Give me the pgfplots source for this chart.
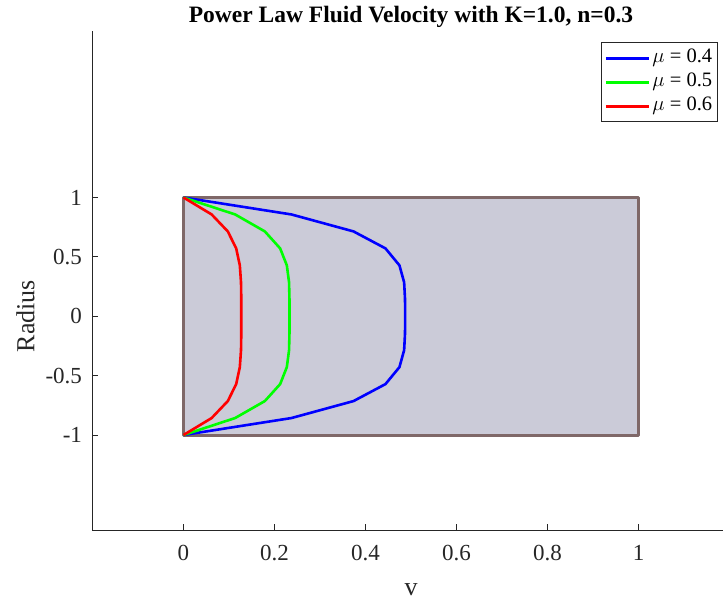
\documentclass[border=0pt]{standalone}
\usepackage{fontspec}
\setmainfont{Liberation Serif}
\usepackage{pgfplots}
\pgfplotsset{compat=1.18}
\definecolor{rectfill}{RGB}{203,203,216}
\definecolor{rectedge}{RGB}{127,104,104}
\definecolor{axgray}{RGB}{38,38,38}
\begin{document}
\begin{tikzpicture}
\path[use as bounding box] (0,0) rectangle (723pt,603pt);
\begin{axis}[
  at={(92.5pt,73pt)}, anchor=south west,
  scale only axis, width=637pt, height=498.75pt,
  xmin=-0.2, xmax=1.2, ymin=-1.8, ymax=2.4,
  axis x line*=bottom, axis y line*=left,
  axis line style={axgray, line width=0.8pt},
  xtick={0,0.2,0.4,0.6,0.8,1}, ytick={-1,-0.5,0,0.5,1},
  xticklabels={0,0.2,0.4,0.6,0.8,1},
  yticklabels={-1,-0.5,0,0.5,1},
  tick align=inside, major tick length=6pt,
  tick style={axgray, line width=0.8pt},
  tick label style={font=\fontsize{23}{23}\selectfont, text=axgray},
  /pgf/number format/assume math mode=true,
  xticklabel style={yshift=-12pt},
  yticklabel style={xshift=-7pt},
  xlabel={v}, ylabel={Radius},
  label style={font=\fontsize{26}{26}\selectfont, text=axgray},
  xlabel style={yshift=-16pt},
  ylabel style={at={(ticklabel cs:0.429)}, yshift=4pt},
  title={Power Law Fluid Velocity with K=1.0, n=0.3},
  title style={font=\bfseries\fontsize{23.5}{23.5}\selectfont, at={(0.5,1)}, anchor=base, yshift=3pt},
  legend style={at={(0.982,0.978)}, anchor=north east, draw=axgray, line width=0.8pt,
    fill=white, font=\fontsize{20.5}{20.5}\selectfont, row sep=0pt, inner sep=3.5pt,
    nodes={inner xsep=2pt, inner ysep=2.5pt, text height=14pt, text depth=5pt}},
  legend cell align=left,
  legend image code/.code={\draw[#1, line width=3pt] (0pt,0pt) -- (43pt,0pt);},
  every axis plot/.append style={line join=round},
]
\addplot[fill=rectfill, draw=rectedge, line width=3pt, forget plot]
  coordinates {(0,-1) (1,-1) (1,1) (0,1)} -- cycle;
\addplot[blue, line width=2.6pt] coordinates {
(0,-1) (0.2373,-0.857143) (0.3737,-0.714286) (0.4439,-0.571429) (0.4746,-0.428571)
(0.4849,-0.285714) (0.4869,-0.142857) (0.487,0) (0.4869,0.142857) (0.4849,0.285714)
(0.4746,0.428571) (0.4439,0.571429) (0.3737,0.714286) (0.2373,0.857143) (0,1)};
\addlegendentry{$\mu$ = 0.4}
\addplot[color={rgb,255:red,0;green,255;blue,0}, line width=2.6pt] coordinates {
(0,-1) (0.1135,-0.857143) (0.1788,-0.714286) (0.2124,-0.571429) (0.2271,-0.428571)
(0.2320,-0.285714) (0.2329,-0.142857) (0.233,0) (0.2329,0.142857) (0.2320,0.285714)
(0.2271,0.428571) (0.2124,0.571429) (0.1788,0.714286) (0.1135,0.857143) (0,1)};
\addlegendentry{$\mu$ = 0.5}
\addplot[red, line width=2.6pt] coordinates {
(0,-1) (0.0619,-0.857143) (0.0974,-0.714286) (0.1158,-0.571429) (0.1238,-0.428571)
(0.1264,-0.285714) (0.1270,-0.142857) (0.127,0) (0.1270,0.142857) (0.1264,0.285714)
(0.1238,0.428571) (0.1158,0.571429) (0.0974,0.714286) (0.0619,0.857143) (0,1)};
\addlegendentry{$\mu$ = 0.6}
\end{axis}
\end{tikzpicture}
\end{document}
